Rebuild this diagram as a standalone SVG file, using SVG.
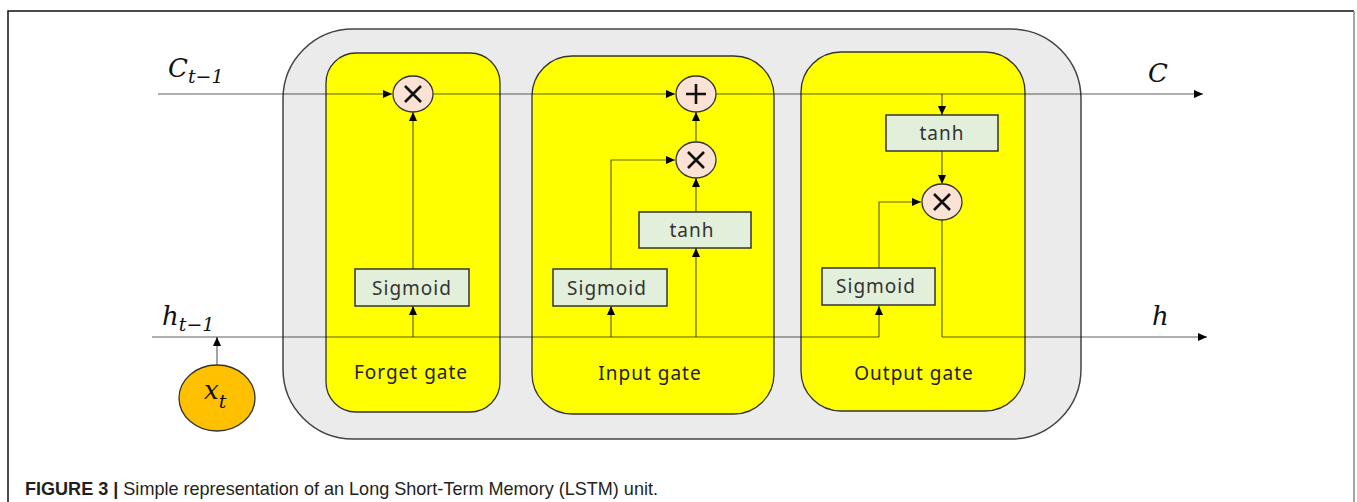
<svg xmlns="http://www.w3.org/2000/svg" width="1357" height="502" viewBox="0 0 1357 502">
  <style>
    .gate { fill: #ffff00; stroke: #333; stroke-width: 1.3; }
    .box { fill: #e2efda; stroke: #333; stroke-width: 1.5; }
    .op { fill: #fbe2d4; stroke: #333; stroke-width: 1.3; }
    .sym { stroke: #111; stroke-width: 2.6; stroke-linecap: butt; fill: none; }
    .lbl { font-family: "Noto Sans", "Open Sans", sans-serif; font-size: 19px; letter-spacing: 1px; fill: #333; text-anchor: middle; }
    .glbl { font-family: "Noto Sans", "Open Sans", sans-serif; font-size: 19px; letter-spacing: 1px; fill: #222; text-anchor: middle; }
    .math { font-family: "DejaVu Serif", "Liberation Serif", serif; font-style: italic; fill: #111; }
    .main { stroke: #000; stroke-opacity: 0.42; stroke-width: 1.3; fill: none; }
    .inner { stroke: #000; stroke-opacity: 0.6; stroke-width: 1.2; fill: none; }
    .cap { font-family: "Liberation Sans", Arial, sans-serif; font-size: 19px; fill: #231f20; }
  </style>
  <defs>
    <marker id="arr" viewBox="0 0 9 8" refX="9" refY="4" markerWidth="9" markerHeight="8" markerUnits="userSpaceOnUse" orient="auto">
      <path d="M0,0 L9,4 L0,8 z" fill="#000"/>
    </marker>
  </defs>

  <rect width="1357" height="502" fill="#fff"/>
  <!-- figure frame -->
  <path d="M8,502 V11 H1354" fill="none" stroke="#111" stroke-width="1.5"/>
  <path d="M1354,11 V502" fill="none" stroke="#888" stroke-width="1.5"/>

  <!-- LSTM cell body -->
  <g id="cell">
    <rect x="283" y="29" width="798" height="410" rx="70" ry="70" fill="#ebebeb" stroke="#444" stroke-width="1.5"/>
  </g>

  <g id="forget-gate">
    <rect class="gate" x="326" y="53" width="174" height="359" rx="30" ry="30"/>
    <text class="glbl" x="411" y="379">Forget gate</text>
  </g>
  <g id="input-gate">
    <rect class="gate" x="532" y="56" width="242" height="358" rx="40" ry="40"/>
    <text class="glbl" x="650" y="380">Input gate</text>
  </g>
  <g id="output-gate">
    <rect class="gate" x="801" y="52" width="224" height="359" rx="40" ry="40"/>
    <text class="glbl" x="914" y="380">Output gate</text>
  </g>

  <!-- connectors -->
  <g id="connectors">
    <path class="main" d="M158,94 H392" marker-end="url(#arr)"/>
    <path class="main" d="M433,94 H675" marker-end="url(#arr)"/>
    <path class="main" d="M716,94 H1203" marker-end="url(#arr)"/>
    <path class="main" d="M152,337 H879"/>
    <path class="main" d="M942,337 H1207" marker-end="url(#arr)"/>

    <path class="inner" d="M413,337 V306" marker-end="url(#arr)"/>
    <path class="inner" d="M413,269 V112" marker-end="url(#arr)"/>

    <path class="inner" d="M611,337 V306" marker-end="url(#arr)"/>
    <path class="inner" d="M611,269 V160 H675" marker-end="url(#arr)"/>
    <path class="inner" d="M696,337 V248" marker-end="url(#arr)"/>
    <path class="inner" d="M696,212 V178" marker-end="url(#arr)"/>
    <path class="inner" d="M696,142 V112" marker-end="url(#arr)"/>

    <path class="inner" d="M942,94 V115" marker-end="url(#arr)"/>
    <path class="inner" d="M942,151 V184" marker-end="url(#arr)"/>
    <path class="inner" d="M942,220 V337"/>
    <path class="inner" d="M879,337 V306" marker-end="url(#arr)"/>
    <path class="inner" d="M879,269 V202 H921" marker-end="url(#arr)"/>

    <path class="inner" d="M217,365 V337" marker-end="url(#arr)"/>
  </g>

  <!-- forget gate parts -->
  <g id="forget-sigmoid">
    <rect class="box" x="355" y="269" width="114" height="37"/>
    <text class="lbl" x="412" y="295">Sigmoid</text>
  </g>
  <g id="forget-mul">
    <ellipse class="op" cx="413" cy="94" rx="20" ry="18"/>
    <path class="sym" d="M405,86 L421,102 M421,86 L405,102"/>
  </g>

  <!-- input gate parts -->
  <g id="input-sigmoid">
    <rect class="box" x="553" y="269" width="114" height="37"/>
    <text class="lbl" x="607" y="295">Sigmoid</text>
  </g>
  <g id="input-tanh">
    <rect class="box" x="639" y="212" width="112" height="36"/>
    <text class="lbl" x="692" y="237">tanh</text>
  </g>
  <g id="input-mul">
    <ellipse class="op" cx="696" cy="160" rx="20" ry="18"/>
    <path class="sym" d="M688,152 L704,168 M704,152 L688,168"/>
  </g>
  <g id="cell-add">
    <ellipse class="op" cx="696" cy="94" rx="20" ry="18"/>
    <path class="sym" d="M696,84 V104 M686,94 H706"/>
  </g>

  <!-- output gate parts -->
  <g id="output-tanh">
    <rect class="box" x="886" y="115" width="112" height="36"/>
    <text class="lbl" x="942" y="140">tanh</text>
  </g>
  <g id="output-mul">
    <ellipse class="op" cx="942" cy="202" rx="20" ry="18"/>
    <path class="sym" d="M934,194 L950,210 M950,194 L934,210"/>
  </g>
  <g id="output-sigmoid">
    <rect class="box" x="822" y="268" width="113" height="37"/>
    <text class="lbl" x="876" y="293">Sigmoid</text>
  </g>

  <!-- input x_t -->
  <g id="x-t">
    <ellipse cx="217" cy="398" rx="38" ry="33" fill="#ffc000" stroke="#333" stroke-width="1.3"/>
    <text class="math" x="204" y="399" font-size="26">x<tspan font-size="19" dy="9">t</tspan></text>
  </g>

  <!-- signal labels -->
  <g id="labels">
    <text class="math" x="168" y="77" font-size="26">C<tspan font-size="19" dy="6">t−1</tspan></text>
    <text class="math" x="162" y="325" font-size="26">h<tspan font-size="19" dy="6">t−1</tspan></text>
    <text class="math" x="1148" y="82" font-size="26">C</text>
    <text class="math" x="1152" y="325" font-size="26">h</text>
  </g>

  <!-- caption -->
  <text class="cap" x="25" y="495" textLength="633" lengthAdjust="spacingAndGlyphs"><tspan font-weight="bold">FIGURE 3 |</tspan> Simple representation of an Long Short-Term Memory (LSTM) unit.</text>
</svg>
